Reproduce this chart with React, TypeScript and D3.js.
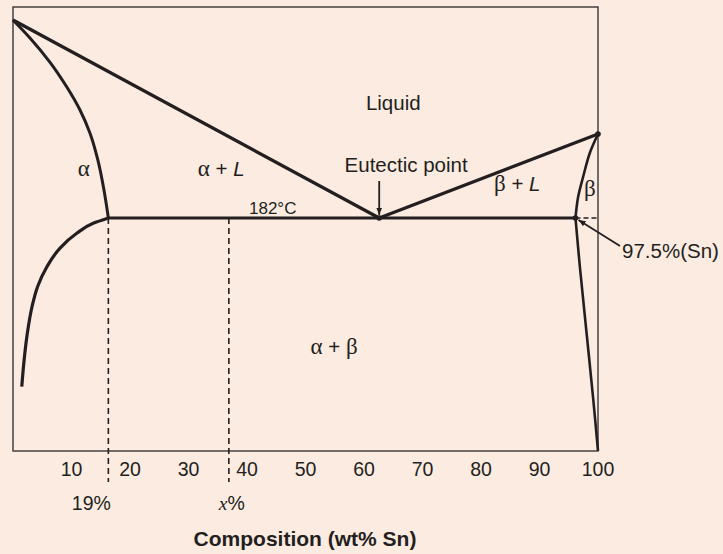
import React from 'react';
import { scaleLinear, line, curveCatmullRom, curveMonotoneY } from 'd3';

// composition (wt% Sn) / temperature (deg C, schematic)
const tickValues = [10, 20, 30, 40, 50, 60, 70, 80, 90, 100];
const tickLabels = ['10', '20', '30', '40', '50', '60', '70', '80', '90', '100'];

const eutecticT = 182;
const eutecticC = 62.6;
const alphaMaxC = 16.3;
const betaMinC = 96.15;
const sampleC = 36.9;

const pbMelt: [number, number] = [0, 327];
const snMelt: [number, number] = [100, 243.5];

const alphaSolidus: [number, number][] = [
  [0, 327], [2.9, 313.8], [6.3, 296.2], [9.2, 277.9], [11.45, 261.1],
  [13.15, 244.2], [14.5, 224.5], [15.55, 202.5], [16.3, 182],
];
const alphaSolvus: [number, number][] = [
  [16.3, 182], [13.7, 178.1], [10.9, 170.8], [8.0, 159.8], [5.8, 146.3],
  [4.2, 131.7], [3.25, 117.0], [2.45, 97.6], [1.9, 78.0], [1.5, 58.5],
];
const betaSolidus: [number, number][] = [
  [100, 243.5], [98.6, 229.6], [97.45, 212.0], [96.6, 197.4], [96.15, 182],
];
const betaSolvus: [number, number][] = [
  [96.15, 182], [96.9, 146.3], [98.05, 97.6], [99.2, 48.7], [100, 11.4],
];

const W = 723;
const H = 554;
const frame = { top: 7, bottom: 451 };
const ink = '#231f20';
const sans = '"Liberation Sans", Arial, sans-serif';
const serif = '"Liberation Serif", "Times New Roman", serif';

export default function App() {
  const x = scaleLinear().domain([0, 100]).range([13, 598]);
  const y = scaleLinear().domain([eutecticT, pbMelt[1]]).range([218, 20]);
  const smoothY = line<[number, number]>().x(d => x(d[0])).y(d => y(d[1])).curve(curveMonotoneY);
  const curve = line<[number, number]>().x(d => x(d[0])).y(d => y(d[1])).curve(curveCatmullRom);
  const straight = line<[number, number]>().x(d => x(d[0])).y(d => y(d[1]));

  const ex = x(eutecticC), ey = y(eutecticT);
  const bx = x(betaMinC);
  const dashBottom = 482;

  // arrow from the 97.5% label to the beta point
  const lblX = 622, lblY = 258;
  const tail: [number, number] = [lblX - 2, lblY - 12];

  return (
    <svg width={W} height={H} style={{ position: 'absolute', left: 0, top: 0 }}>
      <defs>
        <marker id="head" viewBox="0 0 10 10" refX="10" refY="5" markerWidth="4" markerHeight="4" orient="auto" markerUnits="strokeWidth">
          <path d="M0,1 L10,5 L0,9 Z" fill={ink} />
        </marker>
      </defs>
      <rect width={W} height={H} fill="#fcebe1" />
      <rect x={x(0)} y={frame.top} width={x(100) - x(0)} height={frame.bottom - frame.top}
        fill="none" stroke="#3a3536" strokeWidth={1.4} />

      {/* liquidus */}
      <path d={straight([pbMelt, [eutecticC, eutecticT], snMelt]) || ''} fill="none" stroke={ink} strokeWidth={3.3} strokeLinejoin="round" />
      {/* solidus / solvus */}
      <path d={smoothY(alphaSolidus) || ''} fill="none" stroke={ink} strokeWidth={3} />
      <path d={smoothY(alphaSolvus.slice().reverse()) || ''} fill="none" stroke={ink} strokeWidth={3.2} />
      <path d={curve(betaSolidus) || ''} fill="none" stroke={ink} strokeWidth={2.6} />
      <path d={curve(betaSolvus) || ''} fill="none" stroke={ink} strokeWidth={2.6} />
      {/* eutectic isotherm */}
      <line x1={x(alphaMaxC)} x2={bx} y1={ey} y2={ey} stroke={ink} strokeWidth={3.2} />
      <line x1={bx} x2={x(100)} y1={ey} y2={ey} stroke={ink} strokeWidth={1.6} strokeDasharray="5,3" />

      {/* dashed composition guides */}
      <line x1={x(alphaMaxC)} x2={x(alphaMaxC)} y1={ey} y2={dashBottom} stroke={ink} strokeWidth={1.6} strokeDasharray="6,4" />
      <line x1={x(sampleC)} x2={x(sampleC)} y1={ey} y2={dashBottom} stroke={ink} strokeWidth={1.6} strokeDasharray="6,4" />

      {/* points */}
      <circle cx={ex} cy={ey} r={2.8} fill={ink} />
      <circle cx={bx} cy={ey} r={2.8} fill={ink} />
      <circle cx={x(snMelt[0])} cy={y(snMelt[1])} r={2.8} fill={ink} />

      {/* arrows */}
      <line x1={ex} x2={ex} y1={181} y2={ey - 3} stroke={ink} strokeWidth={1.8} markerEnd="url(#head)" />
      <line x1={tail[0]} y1={tail[1]} x2={bx + 3} y2={ey + 2} stroke={ink} strokeWidth={1.8} markerEnd="url(#head)" />

      {/* tick labels */}
      <g fontFamily={sans} fontSize={19.5} fill={ink} textAnchor="middle">
        {tickValues.map((t, i) => (
          <text key={t} x={x(t)} y={476}>{tickLabels[i]}</text>
        ))}
        <text x={x(alphaMaxC) - 17} y={510}>19%</text>
        <text x={x(sampleC) + 3} y={510}><tspan fontFamily={serif} fontStyle="italic">x</tspan>%</text>
      </g>
      <text x={305} y={546} textAnchor="middle" fontFamily={sans} fontSize={21} fontWeight="bold" fill={ink}>Composition (wt% Sn)</text>

      {/* region labels */}
      <g fontFamily={sans} fontSize={20.5} fill={ink} textAnchor="middle">
        <text x={x(65)} y={y(266.2) + 7}>Liquid</text>
        <text x={x(67.2)} y={y(220.8) + 7}>Eutectic point</text>
        <text x={x(12.1)} y={y(217.2) + 6} fontFamily={serif} fontSize={23}>α</text>
        <text x={x(35.6)} y={y(217.2) + 6}><tspan fontFamily={serif} fontSize={23}>α</tspan> + <tspan fontStyle="italic">L</tspan></text>
        <text x={x(86.2)} y={y(206.2) + 6}><tspan fontFamily={serif} fontSize={23}>β</tspan> + <tspan fontStyle="italic">L</tspan></text>
        <text x={x(98.6)} y={y(202.5) + 6} fontFamily={serif} fontSize={23}>β</text>
        <text x={x(54.9)} y={y(86.8) + 6}><tspan fontFamily={serif} fontSize={23}>α</tspan> + <tspan fontFamily={serif} fontSize={23}>β</tspan></text>
        <text x={x(44.4)} y={y(189.3) + 6} fontSize={17}>182°C</text>
      </g>
      <text x={lblX} y={lblY} fontFamily={sans} fontSize={20.5} fill={ink}>97.5%(Sn)</text>
    </svg>
  );
}
